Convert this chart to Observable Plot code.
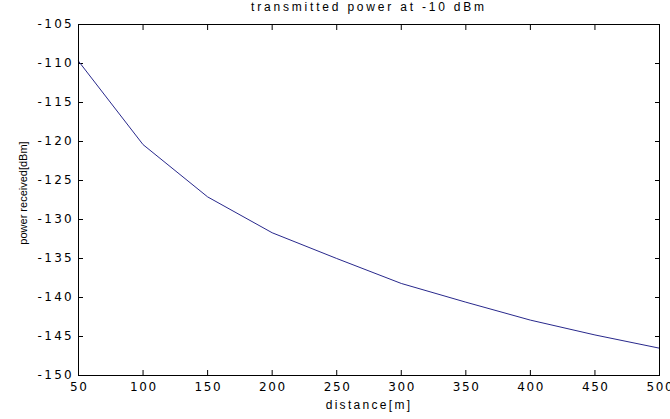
<!DOCTYPE html>
<html>
<head>
<meta charset="utf-8">
<script src="https://cdn.jsdelivr.net/npm/d3@7"></script>
<script src="https://cdn.jsdelivr.net/npm/@observablehq/plot@0.6"></script>
<style>
  html, body { margin: 0; padding: 0; background: #fff; }
  #chart svg { display: block; }
</style>
</head>
<body>
<div id="chart"></div>
<script>
// Data
const distance = [50, 100, 150, 200, 250, 300, 350, 400, 450, 500];
const powerReceived = [-109.7, -120.4, -127.1, -131.7, -135.0, -138.2, -140.6, -142.9, -144.8, -146.5];
const xTicks = [50, 100, 150, 200, 250, 300, 350, 400, 450, 500];
const yTicks = [-105, -110, -115, -120, -125, -130, -135, -140, -145, -150];
const titleText = "transmitted power at -10 dBm";
const xLabelText = "distance[m]";
const yLabelText = "power received[dBm]";

const data = distance.map((d, i) => ({distance: d, power: powerReceived[i]}));
const font = "'Liberation Sans', Arial, Helvetica, sans-serif";
const tickFont = "'DejaVu Sans', Verdana, sans-serif";

const chart = Plot.plot({
  width: 670,
  height: 419,
  marginLeft: 78,
  marginRight: 11,
  marginTop: 24,
  marginBottom: 44,
  style: {fontFamily: font, fontSize: "12px", color: "#000", background: "#fff"},
  x: {domain: [50, 500]},
  y: {domain: [-150, -105]},
  marks: [
    Plot.axisX({anchor: "bottom", ticks: xTicks, tickSize: -5, tickPadding: 12, tickFormat: d => String(d), label: null}),
    Plot.axisX({anchor: "top", ticks: xTicks, tickSize: -5, tickFormat: () => "", label: null}),
    Plot.axisY({anchor: "left", ticks: yTicks, tickSize: -5, tickPadding: 9.5, tickFormat: d => String(d), label: null}),
    Plot.axisY({anchor: "right", ticks: yTicks, tickSize: -5, tickFormat: () => "", label: null}),
    Plot.line(data, {x: "distance", y: "power", stroke: "#28288c", strokeWidth: 1}),
    Plot.frame({stroke: "#000", strokeWidth: 1}),
    Plot.text([titleText], {frameAnchor: "top", dy: -17, fontSize: 12, fill: "#000", textAnchor: "middle", lineAnchor: "middle"}),
    Plot.text([xLabelText], {frameAnchor: "bottom", dy: 30, fontSize: 12, fill: "#000", textAnchor: "middle", lineAnchor: "middle"}),
    Plot.text([yLabelText], {frameAnchor: "left", dx: -55, dy: -7, rotate: -90, fontSize: 11, fill: "#000", textAnchor: "middle", lineAnchor: "middle"})
  ]
});

// Wider letter spacing, as in the reference's screen font
const svg = d3.select(chart);
svg.selectAll("g[aria-label='text'] text").each(function() {
  const t = this.textContent;
  if (t === titleText) d3.select(this).attr("letter-spacing", "2.8px");
  else if (t === xLabelText) d3.select(this).attr("letter-spacing", "2.3px");
});
svg.selectAll("g[aria-label='y-axis tick label'] text")
  .attr("font-family", tickFont).attr("font-size", "12px").attr("letter-spacing", "2.3px");
svg.selectAll("g[aria-label='x-axis tick label'] text")
  .attr("font-family", tickFont).attr("font-size", "12px").attr("letter-spacing", "1.6px").attr("dx", "0.8");

document.getElementById("chart").appendChild(chart);
</script>
</body>
</html>
